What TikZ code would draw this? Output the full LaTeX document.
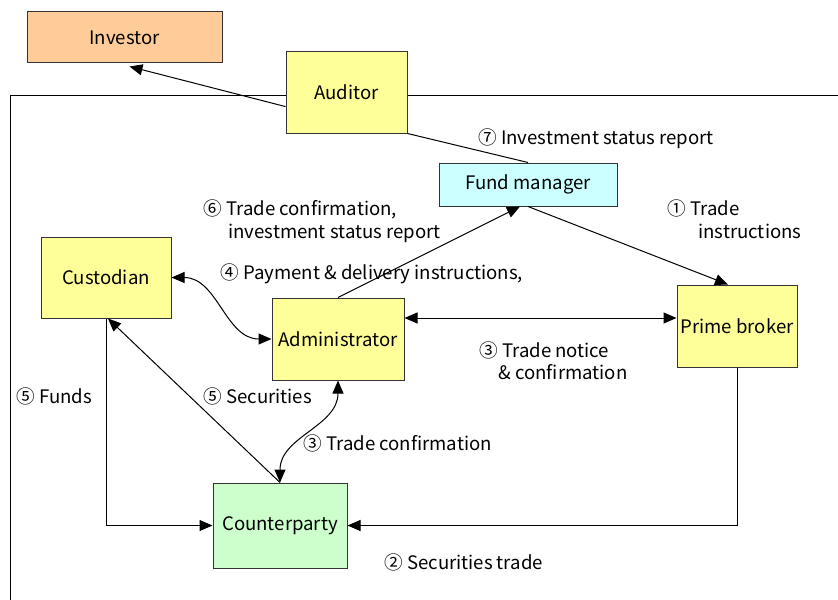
\documentclass[tikz,border=0pt]{standalone}
\usepackage{fontspec}
\setmainfont{Noto Sans CJK JP}
\usepackage{tikz}
\usetikzlibrary{calc, arrows.meta}

\begin{document}
\begin{tikzpicture}[x=0.5pt, y=-0.5pt,
    font=\fontsize{9.3}{11}\selectfont,
    ente/.style={draw=black!80, line width=0.5pt, inner sep=0pt, align=center},
    freccia/.style={-{Triangle[length=6.5pt,width=5.5pt]}, line width=0.5pt},
    doppia/.style={{Triangle[length=6.5pt,width=5.5pt]}-{Triangle[length=6.5pt,width=5.5pt]}, line width=0.5pt},
    linea/.style={line width=0.5pt},
    testo/.style={anchor=base west, inner sep=0pt}]
    \useasboundingbox (0,0) rectangle (838,599);

    % colori
    \definecolor{arancio}{HTML}{FFCC99}
    \definecolor{giallo}{HTML}{FFFF99}
    \definecolor{ciano}{HTML}{CCFFFF}
    \definecolor{verde}{HTML}{CCFFCC}

    % riquadri
    \node[ente, fill=arancio, minimum width=97.5pt, minimum height=25.5pt] (investor) at (124.5,37.5) {Investor};
    \node[ente, fill=giallo, minimum width=60.5pt, minimum height=40.5pt] (auditor) at (346.5,92.5) {Auditor};
    \node[ente, fill=ciano, minimum width=89pt, minimum height=21.5pt] (fundmgr) at (528,184.5) {Fund manager};
    \node[ente, fill=giallo, minimum width=65pt, minimum height=40.5pt] (custodian) at (106,277.5) {Custodian};
    \node[ente, fill=giallo, minimum width=66pt, minimum height=41pt] (admin) at (338,339) {Administrator};
    \node[ente, fill=giallo, minimum width=60pt, minimum height=41pt] (prime) at (737,326) {Prime broker};
    \node[ente, fill=verde, minimum width=67pt, minimum height=42.5pt] (counter) at (280,525.5) {Counterparty};

    % cornice
    \coordinate (ftl) at (10,95);
    \draw[linea] (10,600) -- (ftl) -- (ftl -| auditor.west);
    \draw[linea] (ftl -| auditor.east) -- (838,95);

    % frecce
    \draw[freccia] (auditor.193) -- ([xshift=2.5pt,yshift=-1.5pt]investor.south);
    \draw[linea] (auditor.south east) -- (fundmgr.north);
    \draw[freccia] (admin.north) -- ([xshift=-4pt]fundmgr.south);
    \draw[freccia] (fundmgr.south) -- ([xshift=-4.5pt]prime.north);
    \draw[doppia] ([yshift=10.5pt]admin.east) -- ([yshift=10.5pt]admin.east -| prime.west);
    \draw[doppia] (custodian.east) to[out=0, in=180] (admin.west);
    \draw[doppia] (counter.north) to[out=90, in=-90] (admin.south);
    \draw[freccia] (counter.north) -- ([xshift=1pt]custodian.south);
    \draw[freccia] (custodian.south) |- (counter.west);
    \draw[freccia] (prime.south) |- (counter.east);

    % etichette
    \node[testo] (lbl7) at (478,144) {⑦ Investment status report};
    \node[testo] (lbl1a) at (667,215) {① Trade};
    \node[testo] (lbl1b) at (698,238) {instructions};
    \node[testo] (lbl6a) at (203,215) {⑥ Trade confirmation,};
    \node[testo] (lbl6b) at (228,238) {investment status report};
    \node[testo] (lbl4) at (220,279) {④ Payment \& delivery instructions,};
    \node[testo] (lbl3a) at (479,357) {③ Trade notice};
    \node[testo] (lbl3b) at (498,379) {\& confirmation};
    \node[testo] (lbl5f) at (16,403) {⑤ Funds};
    \node[testo] (lbl5s) at (203,403) {⑤ Securities};
    \node[testo] (lbl3c) at (303,450) {③ Trade confirmation};
    \node[testo] (lbl2) at (384,569) {② Securities trade};
\end{tikzpicture}
\end{document}
